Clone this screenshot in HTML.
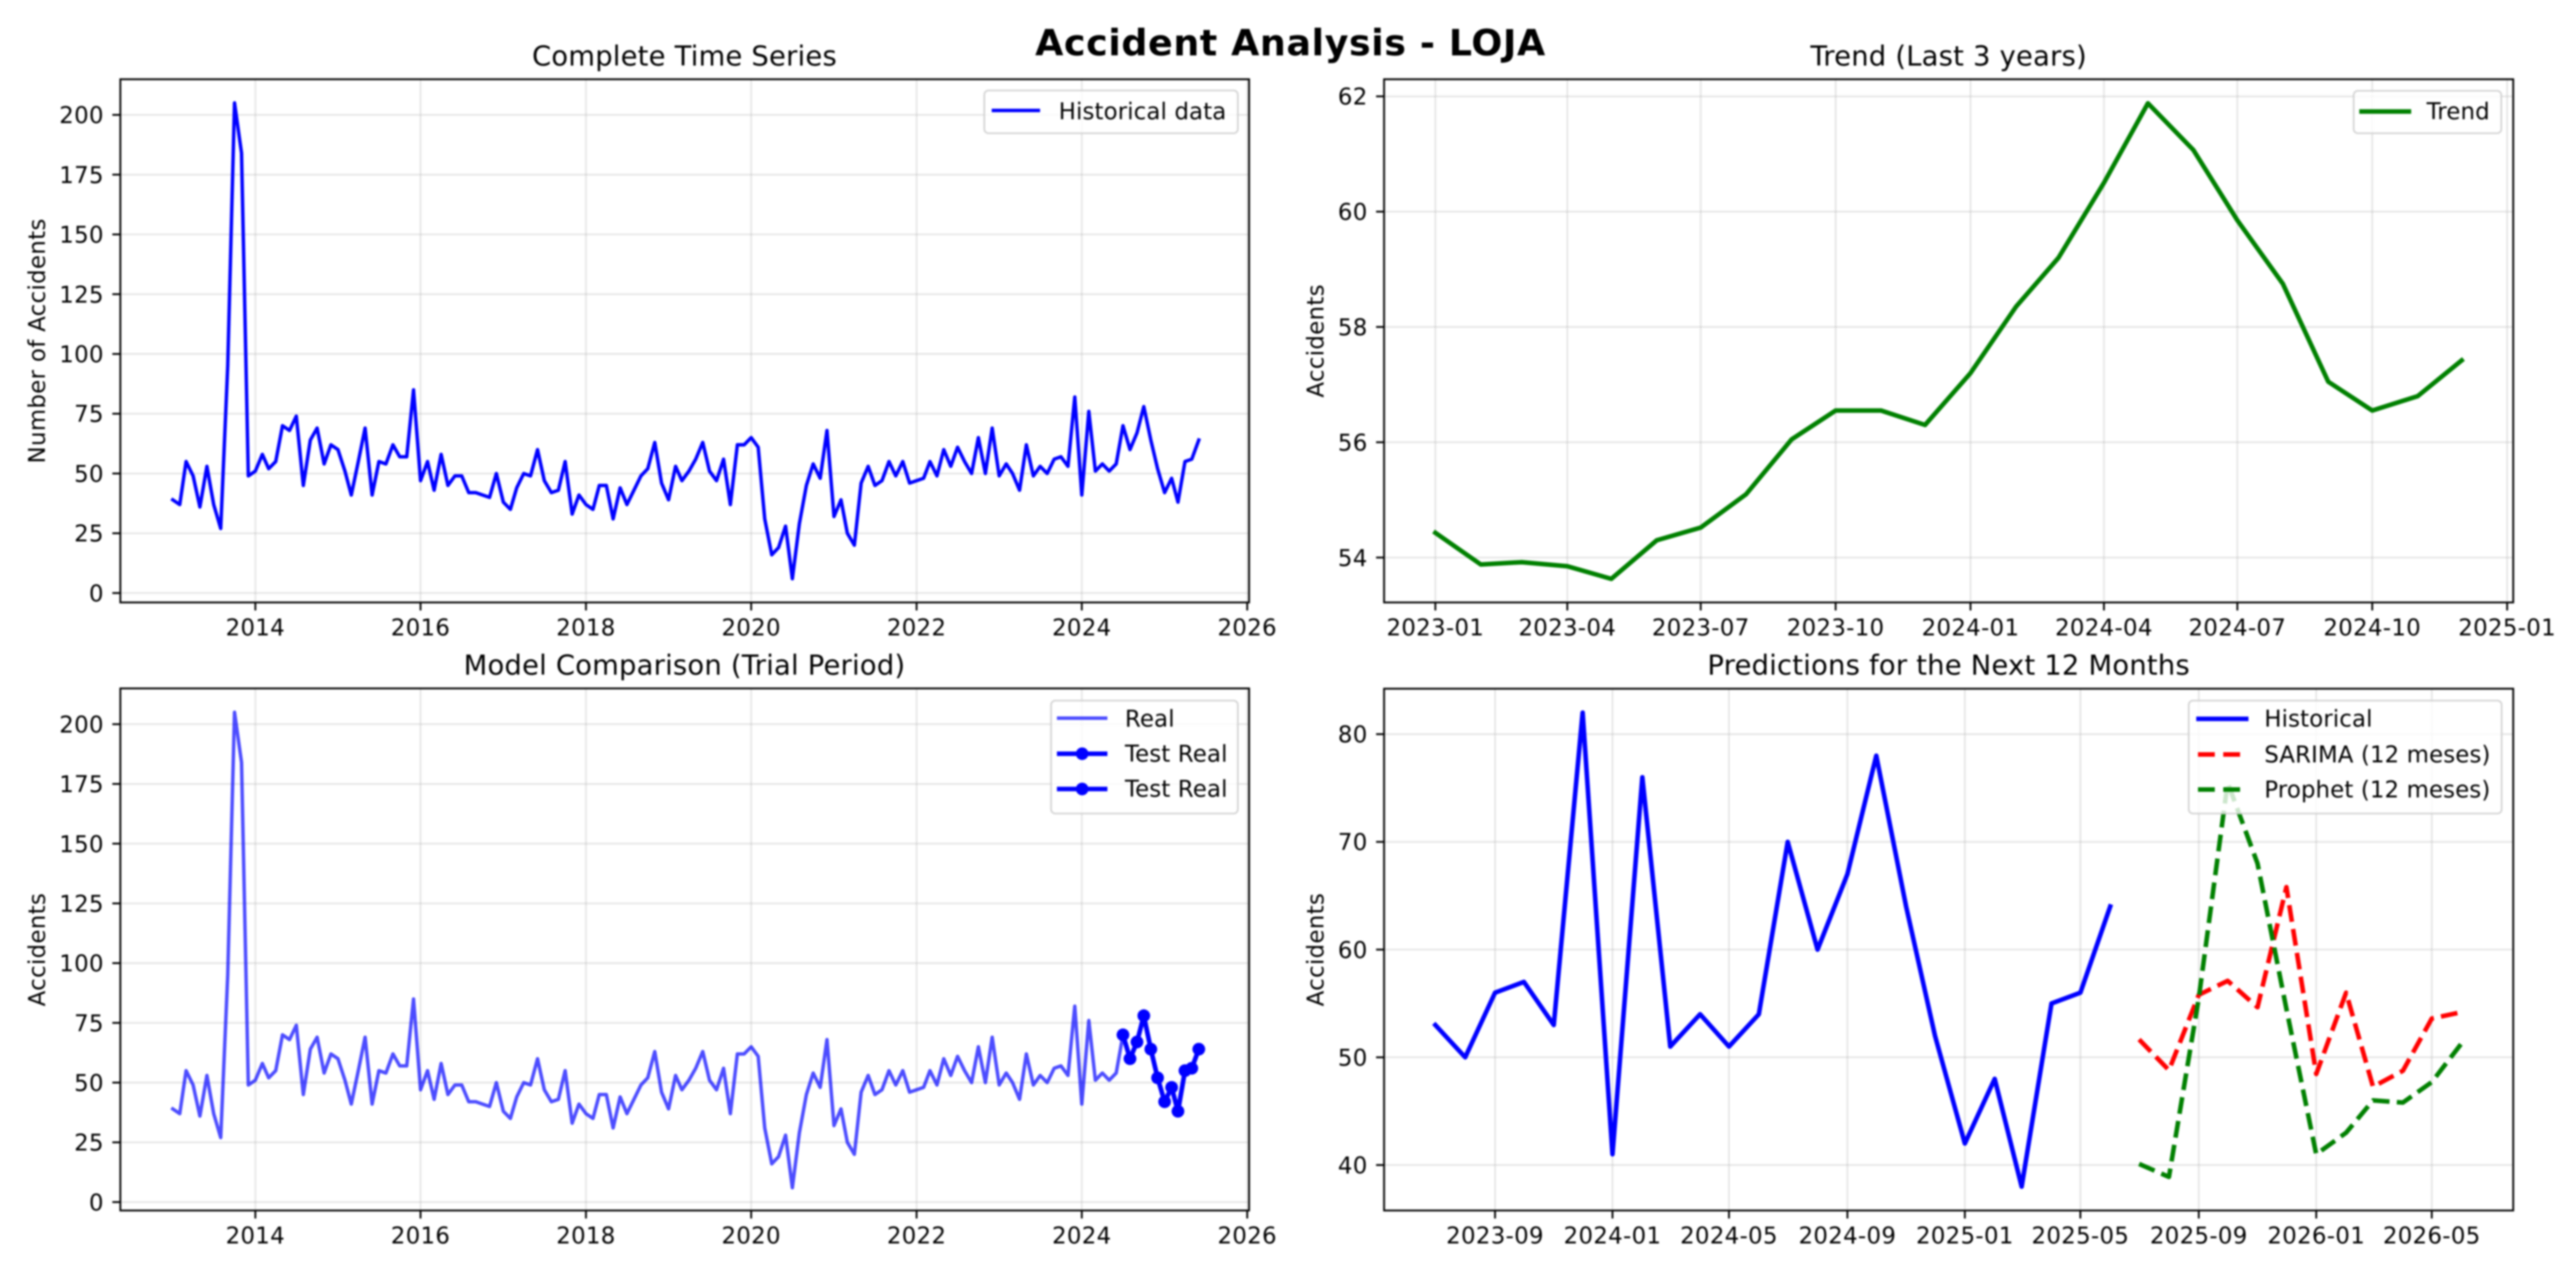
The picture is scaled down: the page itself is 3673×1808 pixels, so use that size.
<!DOCTYPE html>
<html lang="en">
<head>
<meta charset="utf-8">
<title>Accident Analysis - LOJA</title>
<style>
html,body{margin:0;padding:0;background:#fff;}
svg{display:block;filter:blur(1.2px);}
text{font-family:"DejaVu Sans","Liberation Sans",sans-serif;font-size:32.5px;fill:#000;letter-spacing:.5px;}
.title{font-size:39px;text-anchor:middle;letter-spacing:.33px;}
.suptitle{font-size:52px;font-weight:bold;text-anchor:middle;letter-spacing:.8px;}
.legend-text{letter-spacing:.22px;}
.legend-box{fill:#fff;fill-opacity:.8;stroke:#ccc;stroke-opacity:.8;stroke-width:2.6;}
.spine{fill:none;stroke:#000;stroke-width:2.6;}
</style>
</head>
<body>
<svg id="figure" xmlns="http://www.w3.org/2000/svg" width="3673" height="1808" viewBox="0 0 3673 1808">
  <rect x="0" y="0" width="3673" height="1808" fill="#fff"/>
  <text class="suptitle" x="1840" y="79">Accident Analysis - LOJA</text>

  <!-- Panel 1 -->
  <g>
    <text class="title" x="976" y="93.5">Complete Time Series</text>
    <text text-anchor="middle" transform="translate(64,486) rotate(-90)">Number of Accidents</text>
    <g id="p1-plot"></g>
    <rect class="spine" x="171.6" y="113" width="1609.4" height="746"/>
    <g>
      <rect class="legend-box" x="1403.5" y="129" width="361.5" height="61" rx="6" ry="6"/>
      <line x1="1414" y1="157.5" x2="1483" y2="157.5" stroke="#00f" stroke-width="4.9"/>
      <text class="legend-text" x="1509.6" y="170">Historical data</text>
    </g>
  </g>

  <!-- Panel 2 -->
  <g>
    <text class="title" x="2778.5" y="93.5">Trend (Last 3 years)</text>
    <text text-anchor="middle" transform="translate(1887,486) rotate(-90)">Accidents</text>
    <g id="p2-plot"></g>
    <rect class="spine" x="1973.5" y="113" width="1610" height="746"/>
    <g>
      <rect class="legend-box" x="3356" y="129.5" width="210.5" height="60.5" rx="6" ry="6"/>
      <line x1="3364" y1="159" x2="3438" y2="159" stroke="#008000" stroke-width="6.5"/>
      <text class="legend-text" x="3460" y="170">Trend</text>
    </g>
  </g>

  <!-- Panel 3 -->
  <g>
    <text class="title" x="976" y="962">Model Comparison (Trial Period)</text>
    <text text-anchor="middle" transform="translate(64,1354) rotate(-90)">Accidents</text>
    <g id="p3-plot"></g>
    <rect class="spine" x="171.6" y="981.6" width="1609.4" height="744.4"/>
    <g>
      <rect class="legend-box" x="1498.7" y="999" width="266.3" height="161" rx="6" ry="6"/>
      <line x1="1507" y1="1024" x2="1579" y2="1024" stroke="#00f" stroke-opacity=".7" stroke-width="4.9"/>
      <text class="legend-text" x="1604" y="1036">Real</text>
      <line x1="1507" y1="1074.7" x2="1579" y2="1074.7" stroke="#00f" stroke-width="6.5"/>
      <circle cx="1543" cy="1074.7" r="9" fill="#00f"/>
      <text class="legend-text" x="1604" y="1086">Test Real</text>
      <line x1="1507" y1="1125" x2="1579" y2="1125" stroke="#00f" stroke-width="6.5"/>
      <circle cx="1543" cy="1125" r="9" fill="#00f"/>
      <text class="legend-text" x="1604" y="1136">Test Real</text>
    </g>
  </g>

  <!-- Panel 4 -->
  <g>
    <text class="title" x="2778.5" y="962">Predictions for the Next 12 Months</text>
    <text text-anchor="middle" transform="translate(1887,1354) rotate(-90)">Accidents</text>
    <g id="p4-plot"></g>
    <rect class="spine" x="1973.5" y="982" width="1610" height="744"/>
    <g>
      <rect class="legend-box" x="3120.8" y="999" width="446.2" height="161" rx="6" ry="6"/>
      <line x1="3131.5" y1="1025" x2="3206" y2="1025" stroke="#00f" stroke-width="6.5"/>
      <text class="legend-text" x="3228.6" y="1036">Historical</text>
      <line x1="3134" y1="1075.7" x2="3206" y2="1075.7" stroke="#f00" stroke-width="6.5" stroke-dasharray="24 12"/>
      <text class="legend-text" x="3228.6" y="1087">SARIMA (12 meses)</text>
      <line x1="3134" y1="1125.7" x2="3206" y2="1125.7" stroke="#008000" stroke-width="6.5" stroke-dasharray="24 12"/>
      <text class="legend-text" x="3228.6" y="1137">Prophet (12 meses)</text>
    </g>
  </g>
</svg>

<script>
// ---------- chart data ----------
const historyStartMonth = '2013-01';
const accidentsHistory = [
  39,37,55,49,36,53,37,27,95,205,184,49,
  51,58,52,55,70,68,74,45,64,69,54,62,
  60,51,41,55,69,41,55,54,62,57,57,85,
  47,55,43,58,45,49,49,42,42,41,40,50,
  38,35,44,50,49,60,47,42,43,55,33,41,
  37,35,45,45,31,44,37,43,49,52,63,46,
  39,53,47,51,56,63,51,47,56,37,62,62,
  65,61,31,16,19,28,6,29,45,54,48,68,
  32,39,25,20,46,53,45,47,55,49,55,46,
  47,48,55,49,60,53,61,55,50,65,50,69,
  49,54,50,43,62,49,53,50,56,57,53,82,
  41,76,51,54,51,54,70,60,67,78,64,52,
  42,48,38,55,56,64
];

const trendStartMonth = '2023-01';
const trendValues = [
  54.43,53.88,53.92,53.85,53.63,54.30,54.52,55.10,56.05,56.55,56.55,56.30,
  57.20,58.35,59.20,60.50,61.88,61.07,59.85,58.75,57.05,56.55,56.80,57.42
];

const testRealStartMonth = '2024-07';
const testRealValues = [70,60,67,78,64,52,42,48,38,55,56,64];

const recentStartMonth = '2023-07';
const recentHistorical = [53,50,56,57,53,82,41,76,51,54,51,54,70,60,67,78,64,52,42,48,38,55,56,64];

const forecastStartMonth = '2025-07';
const sarimaForecast = [51.66,48.8,55.8,57.1,54.65,65.8,48.45,56.0,47.27,48.75,53.6,54.2];
const prophetForecast = [40.1,38.9,55.5,75.5,68.0,54.5,41.0,43.0,46.0,45.8,47.7,51.3];

const yearTickLabels = ['2014','2016','2018','2020','2022','2024','2026'];
const accidentTickValues = [0,25,50,75,100,125,150,175,200];
const trendMonthTickLabels = ['2023-01','2023-04','2023-07','2023-10','2024-01','2024-04','2024-07','2024-10','2025-01'];
const trendTickValues = [54,56,58,60,62];
const forecastMonthTickLabels = ['2023-09','2024-01','2024-05','2024-09','2025-01','2025-05','2025-09','2026-01','2026-05'];
const forecastTickValues = [40,50,60,70,80];

// ---------- helpers ----------
const SVG_NS = 'http://www.w3.org/2000/svg';
function svgEl(tag, attrs, parent) {
  const el = document.createElementNS(SVG_NS, tag);
  for (const k in attrs) el.setAttribute(k, attrs[k]);
  parent.appendChild(el);
  return el;
}
function toTime(label) {
  const parts = label.split('-');
  return Date.UTC(+parts[0], parts[1] ? +parts[1] - 1 : 0, 1);
}
function addMonths(label, n) {
  const parts = label.split('-');
  return Date.UTC(+parts[0], +parts[1] - 1 + n, 1);
}
function linearScale(d0, r0, d1, r1) {
  return function (v) { return r0 + (v - d0) * (r1 - r0) / (d1 - d0); };
}
function timeScale(label0, x0, label1, x1) {
  const s = linearScale(toTime(label0), x0, toTime(label1), x1);
  return function (label) { return s(toTime(label)); };
}

function drawAxes(plot, box, xScale, yScale, xLabels, yValues, prefix) {
  xLabels.forEach(function (label) {
    const x = xScale(label);
    const grid = svgEl('line', {x1: x, x2: x, y1: box.top, y2: box.bottom, stroke: '#b0b0b0', 'stroke-opacity': .3, 'stroke-width': 2.6}, plot);
    
    
    const tick = svgEl('line', {x1: x, x2: x, y1: box.bottom, y2: box.bottom + 11.4, stroke: '#000', 'stroke-width': 2.6}, plot);
    
    
    const text = svgEl('text', {x: x, y: box.bottom + 47, 'text-anchor': 'middle'}, plot);
    text.textContent = label;
    
    
  });
  yValues.forEach(function (value) {
    const y = yScale(value);
    const grid = svgEl('line', {x1: box.left, x2: box.right, y1: y, y2: y, stroke: '#b0b0b0', 'stroke-opacity': .3, 'stroke-width': 2.6}, plot);
    
    
    const tick = svgEl('line', {x1: box.left - 11.4, x2: box.left, y1: y, y2: y, stroke: '#000', 'stroke-width': 2.6}, plot);
    
    
    const text = svgEl('text', {x: box.left - 23.5, y: y + 11.8, 'text-anchor': 'end'}, plot);
    text.textContent = String(value);
    
    
  });
}

function seriesPoints(values, startMonth, xTime, yScale) {
  return values.map(function (v, i) {
    return [xTime(addMonths(startMonth, i)), yScale(v)];
  });
}
function drawSeries(plot, points, style, name) {
  const d = points.map(function (p) { return p[0].toFixed(2) + ',' + p[1].toFixed(2); }).join(' ');
  const line = svgEl('polyline', Object.assign({points: d, fill: 'none', 'stroke-linejoin': 'round'}, style), plot);
  
  
  return line;
}
function drawMarkers(plot, points, radius, color, name) {
  points.forEach(function (p) {
    const dot = svgEl('circle', {cx: p[0], cy: p[1], r: radius, fill: color}, plot);
    
    
  });
}
function timeToX(label0, x0, label1, x1) {
  return linearScale(toTime(label0), x0, toTime(label1), x1);
}

// ---------- panel 1: complete series ----------
(function () {
  const plot = document.getElementById('p1-plot');
  const box = {left: 171.6, right: 1781, top: 113, bottom: 859};
  const xLabel = timeScale('2013-01', 246.3, '2025-06', 1709.3);
  const xTime = timeToX('2013-01', 246.3, '2025-06', 1709.3);
  const y = linearScale(0, 845.6, 200, 163.8);
  drawAxes(plot, box, xLabel, y, yearTickLabels, accidentTickValues, 'complete-time-series');
  drawSeries(plot, seriesPoints(accidentsHistory, historyStartMonth, xTime, y),
    {stroke: '#00f', 'stroke-width': 4.9, 'stroke-linecap': 'square'}, 'historical-data-line');
})();

// ---------- panel 2: trend ----------
(function () {
  const plot = document.getElementById('p2-plot');
  const box = {left: 1973.5, right: 3583.5, top: 113, bottom: 859};
  const xLabel = timeScale('2023-01', 2046.6, '2024-12', 3510.0);
  const xTime = timeToX('2023-01', 2046.6, '2024-12', 3510.0);
  const y = linearScale(54, 795, 62, 137.4);
  drawAxes(plot, box, xLabel, y, trendMonthTickLabels, trendTickValues, 'trend');
  drawSeries(plot, seriesPoints(trendValues, trendStartMonth, xTime, y),
    {stroke: '#008000', 'stroke-width': 6.5, 'stroke-linecap': 'square'}, 'trend-line');
})();

// ---------- panel 3: model comparison ----------
(function () {
  const plot = document.getElementById('p3-plot');
  const box = {left: 171.6, right: 1781, top: 981.6, bottom: 1726};
  const xLabel = timeScale('2013-01', 246.3, '2025-06', 1709.3);
  const xTime = timeToX('2013-01', 246.3, '2025-06', 1709.3);
  const y = linearScale(0, 1714, 200, 1032.6);
  drawAxes(plot, box, xLabel, y, yearTickLabels, accidentTickValues, 'model-comparison');
  drawSeries(plot, seriesPoints(accidentsHistory, historyStartMonth, xTime, y),
    {stroke: '#00f', 'stroke-opacity': .7, 'stroke-width': 4.9, 'stroke-linecap': 'square'}, 'real-line');
  const testPoints = seriesPoints(testRealValues, testRealStartMonth, xTime, y);
  drawSeries(plot, testPoints, {stroke: '#00f', 'stroke-width': 6.5, 'stroke-linecap': 'square'}, 'test-real-line');
  drawMarkers(plot, testPoints, 9, '#00f', 'test-real-point');
  drawSeries(plot, testPoints, {stroke: '#00f', 'stroke-width': 6.5, 'stroke-linecap': 'square'}, 'test-real-line-second');
  drawMarkers(plot, testPoints, 9, '#00f', 'test-real-second-point');
})();

// ---------- panel 4: predictions ----------
(function () {
  const plot = document.getElementById('p4-plot');
  const box = {left: 1973.5, right: 3583.5, top: 982, bottom: 1726};
  const xLabel = timeScale('2023-07', 2046.6, '2026-06', 3509.9);
  const xTime = timeToX('2023-07', 2046.6, '2026-06', 3509.9);
  const y = linearScale(40, 1661.2, 80, 1046.8);
  drawAxes(plot, box, xLabel, y, forecastMonthTickLabels, forecastTickValues, 'predictions');
  drawSeries(plot, seriesPoints(recentHistorical, recentStartMonth, xTime, y),
    {stroke: '#00f', 'stroke-width': 6.5, 'stroke-linecap': 'square'}, 'historical-line');
  drawSeries(plot, seriesPoints(sarimaForecast, forecastStartMonth, xTime, y),
    {stroke: '#f00', 'stroke-width': 6.5, 'stroke-dasharray': '24 10.4', 'stroke-linecap': 'butt'}, 'sarima-forecast-line');
  drawSeries(plot, seriesPoints(prophetForecast, forecastStartMonth, xTime, y),
    {stroke: '#008000', 'stroke-width': 6.5, 'stroke-dasharray': '24 10.4', 'stroke-linecap': 'butt'}, 'prophet-forecast-line');
})();
</script>
</body>
</html>
